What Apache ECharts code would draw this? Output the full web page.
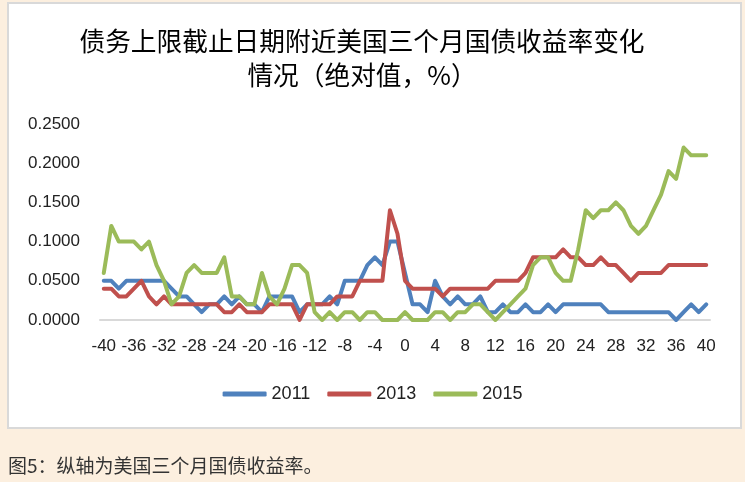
<!DOCTYPE html>
<html>
<head>
<meta charset="utf-8">
<script src="https://cdn.jsdelivr.net/npm/echarts@6/dist/echarts.min.js"></script>
<style>
  html, body { margin: 0; padding: 0; background: #fcefdf; }
  #chart { width: 745px; height: 482px; }
</style>
</head>
<body>
<div id="chart"></div>
<script>
// days relative to the debt-ceiling deadline
const days = [];
for (let d = -40; d <= 40; d++) days.push(String(d));

const y2011 = [
  0.05, 0.05, 0.04, 0.05, 0.05, 0.05, 0.05, 0.05, 0.05, 0.04,
  0.03, 0.03, 0.02, 0.01, 0.02, 0.02, 0.03, 0.02, 0.03, 0.02,
  0.02, 0.01, 0.03, 0.03, 0.03, 0.03, 0.01, 0.02, 0.02, 0.02,
  0.03, 0.02, 0.05, 0.05, 0.05, 0.07, 0.08, 0.07, 0.10, 0.10,
  0.06,
  0.02, 0.02, 0.01, 0.05, 0.03, 0.02, 0.03, 0.02, 0.02, 0.03,
  0.01, 0.01, 0.02, 0.01, 0.01, 0.02, 0.01, 0.01, 0.02, 0.01,
  0.02, 0.02, 0.02, 0.02, 0.02, 0.02, 0.01, 0.01, 0.01, 0.01,
  0.01, 0.01, 0.01, 0.01, 0.01, 0.00, 0.01, 0.02, 0.01, 0.02
];
const y2013 = [
  0.04, 0.04, 0.03, 0.03, 0.04, 0.05, 0.03, 0.02, 0.03, 0.02,
  0.02, 0.02, 0.02, 0.02, 0.02, 0.02, 0.01, 0.01, 0.02, 0.01,
  0.01, 0.01, 0.02, 0.02, 0.02, 0.02, 0.00, 0.02, 0.02, 0.02,
  0.02, 0.03, 0.03, 0.03, 0.05, 0.05, 0.05, 0.05, 0.14, 0.11,
  0.05,
  0.04, 0.04, 0.04, 0.04, 0.03, 0.04, 0.04, 0.04, 0.04, 0.04,
  0.04, 0.05, 0.05, 0.05, 0.05, 0.06, 0.08, 0.08, 0.08, 0.08,
  0.09, 0.08, 0.08, 0.07, 0.07, 0.08, 0.07, 0.07, 0.06, 0.05,
  0.06, 0.06, 0.06, 0.06, 0.07, 0.07, 0.07, 0.07, 0.07, 0.07
];
const y2015 = [
  0.06, 0.12, 0.10, 0.10, 0.10, 0.09, 0.10, 0.07, 0.05, 0.02,
  0.03, 0.06, 0.07, 0.06, 0.06, 0.06, 0.08, 0.03, 0.03, 0.02,
  0.02, 0.06, 0.03, 0.02, 0.04, 0.07, 0.07, 0.06, 0.01, 0.00,
  0.01, 0.00, 0.01, 0.01, 0.00, 0.01, 0.01, 0.00, 0.00, 0.00,
  0.01,
  0.00, 0.00, 0.00, 0.01, 0.01, 0.00, 0.01, 0.01, 0.02, 0.02,
  0.01, 0.00, 0.01, 0.02, 0.03, 0.04, 0.07, 0.08, 0.08, 0.06,
  0.05, 0.05, 0.09, 0.14, 0.13, 0.14, 0.14, 0.15, 0.14, 0.12,
  0.11, 0.12, 0.14, 0.16, 0.19, 0.18, 0.22, 0.21, 0.21, 0.21
];

const seriesNames = ["2011", "2013", "2015"];
const colors = ["#4f81bd", "#c0504d", "#9bbb59"];

const font = "'Liberation Sans', Arial, sans-serif";
const cjk = "'Noto Sans CJK SC', sans-serif";

const chart = echarts.init(document.getElementById("chart"));

function makeLine(name, data, color) {
  return {
    name: name,
    type: "line",
    data: data,
    showSymbol: false,
    symbol: "none",
    lineStyle: { width: 4, color: color, join: "round", cap: "round" },
    itemStyle: { color: color },
    animation: false
  };
}

const option = {
  animation: false,
  graphic: [
    {
      type: "rect",
      z: -10,
      shape: { x: 8, y: 3, width: 733, height: 425 },
      style: { fill: "#ffffff", stroke: "#d9d9d9", lineWidth: 2 }
    },
    {
      type: "text",
      x: 362, y: 41,
      style: {
        text: "债务上限截止日期附近美国三个月国债收益率变化",
        fontSize: 25.7, fontFamily: cjk, fill: "#000",
        align: "center", verticalAlign: "middle"
      }
    },
    {
      type: "text",
      x: 362, y: 75,
      style: {
        text: "情况（绝对值，%）",
        fontSize: 25.7, fontFamily: cjk, fill: "#000",
        align: "center", verticalAlign: "middle"
      }
    },
    {
      type: "text",
      x: 8, y: 466,
      style: {
        text: "图5：纵轴为美国三个月国债收益率。",
        fontSize: 19, fontFamily: cjk, fill: "#333",
        align: "left", verticalAlign: "middle"
      }
    }
  ],
  grid: { left: 100, right: 35, top: 124, bottom: 162 },
  legend: {
    data: seriesNames,
    top: 380,
    left: "center",
    icon: "roundRect",
    itemWidth: 44,
    itemHeight: 5,
    itemGap: 17,
    textStyle: { fontSize: 18, fontFamily: font, color: "#222" }
  },
  xAxis: {
    type: "category",
    data: days,
    boundaryGap: true,
    axisLine: { lineStyle: { color: "#d9d9d9", width: 2 } },
    axisTick: { show: false },
    axisLabel: {
      interval: 3,
      margin: 18,
      fontSize: 17,
      fontFamily: font,
      color: "#222"
    },
    splitLine: { show: false }
  },
  yAxis: {
    type: "value",
    min: 0,
    max: 0.25,
    interval: 0.05,
    axisLine: { show: false },
    axisTick: { show: false },
    splitLine: { show: false },
    axisLabel: {
      margin: 20,
      fontSize: 17,
      fontFamily: font,
      color: "#222",
      formatter: v => v.toFixed(4)
    }
  },
  series: [
    makeLine(seriesNames[0], y2011, colors[0]),
    makeLine(seriesNames[1], y2013, colors[1]),
    makeLine(seriesNames[2], y2015, colors[2])
  ]
};

chart.setOption(option);
</script>
</body>
</html>
